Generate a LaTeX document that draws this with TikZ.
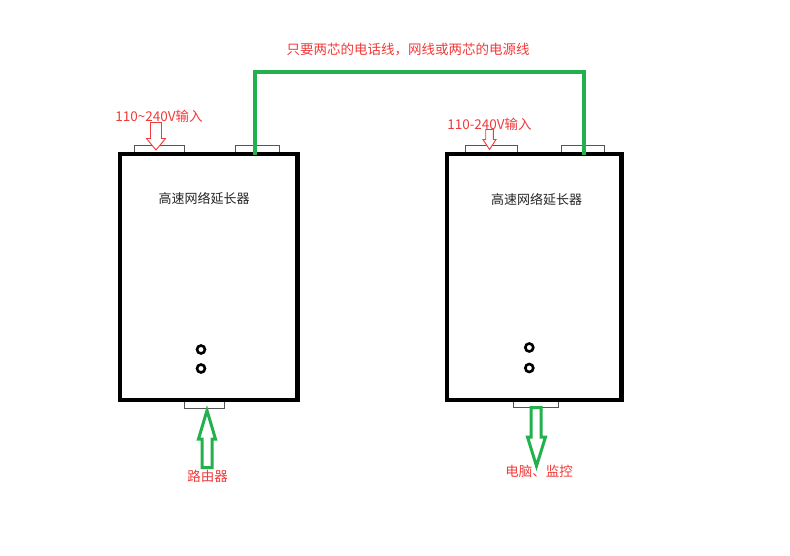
\documentclass[tikz,border=0pt]{standalone}
\usepackage{fontspec}
\newfontfamily\cjk{Noto Sans CJK SC}
\definecolor{pgreen}{HTML}{22B14C}
\definecolor{pred}{HTML}{F23A3A}
\definecolor{pgray}{HTML}{555555}
\begin{document}
\begin{tikzpicture}[x=1pt,y=-1pt,
  devbox/.style={draw=black,line width=4.5pt,fill=white,inner sep=0pt},
  port/.style={draw=pgray,line width=0.9pt,fill=white,inner sep=0pt,minimum height=8pt},
  redlbl/.style={text=pred,font=\cjk\fontsize{13.5}{15}\selectfont,inner sep=0pt},
  title/.style={text=black!85,font=\cjk\fontsize{13}{15}\selectfont,inner sep=0pt},
  greenline/.style={draw=pgreen,line width=4pt},
  greenarrow/.style={draw=pgreen,line width=3pt,line join=miter,fill=white},
  redarrow/.style={draw=pred,line width=0.9pt,fill=white},
  dot/.style={draw=black,line width=2.6pt,circle,minimum size=8pt,inner sep=0pt,fill=white}]
\useasboundingbox[fill=white] (0,0) rectangle (790,555);
% ports (drawn first so box stroke covers one edge)
\node[port,minimum width=50pt] (LPow) at (159.3,149.5) {};
\node[port,minimum width=44pt] (LLine) at (257.3,149.5) {};
\node[port,minimum width=51.6pt] (RPow) at (491.5,149.5) {};
\node[port,minimum width=42.3pt] (RLine) at (582.9,149.5) {};
\node[port,minimum width=40.3pt] (LBot) at (204.2,404) {};
\node[port,minimum width=45.4pt] (RBot) at (536,403.5) {};
% boxes
\node[devbox,minimum width=177.5pt,minimum height=246pt] (L) at (208.5,277) {};
\node[devbox,minimum width=174.3pt,minimum height=246pt] (R) at (534.2,277) {};
% titles
\node[title] (LT) at (204,198.5) {高速网络延长器};
\node[title] (RT) at (536.5,200) {高速网络延长器};
% dots
\node[dot] (Ld1) at (201,349.5) {};
\node[dot] (Ld2) at (201,368.5) {};
\node[dot] (Rd1) at (529.3,347.5) {};
\node[dot] (Rd2) at (529.3,368) {};
% wire
\coordinate (wA) at (255,155);
\coordinate (wB) at (255,72);
\coordinate (wC) at (584,72);
\coordinate (wD) at (584,155);
\draw[greenline] (wA) -- (wB) -- (wC) -- (wD);
\node[redlbl] (wire) at (408,50) {只要两芯的电话线，网线或两芯的电源线};
% power inputs
\node[redlbl] (LIn) at (159,116) {110\textasciitilde240V输入};
\node[redlbl] (RIn) at (489.5,124) {110-240V输入};
\draw[redarrow] (150.5,122.5) -- (161.5,122.5) -- (161.5,138.5) -- (165.5,138.5) -- (156,150)
  -- (146.5,138.5) -- (150.5,138.5) -- cycle;
\draw[redarrow] (485.7,129.5) -- (493.3,129.5) -- (493.3,139.5) -- (496,139.5) -- (489.5,149.5)
  -- (483,139.5) -- (485.7,139.5) -- cycle;
% router arrow (up)
\draw[greenarrow] (207,410.5) -- (215.5,439) -- (212,439) -- (212,467.5) -- (202,467.5)
  -- (202,439) -- (198.5,439) -- cycle;
\node[redlbl] (router) at (207.5,476) {路由器};
% pc arrow (down)
\draw[greenarrow] (531,407.5) -- (541,407.5) -- (541,437) -- (545.5,437) -- (536.5,466)
  -- (527.5,437) -- (531,437) -- cycle;
\node[redlbl] (pc) at (539,471) {电脑、监控};
\end{tikzpicture}
\end{document}
